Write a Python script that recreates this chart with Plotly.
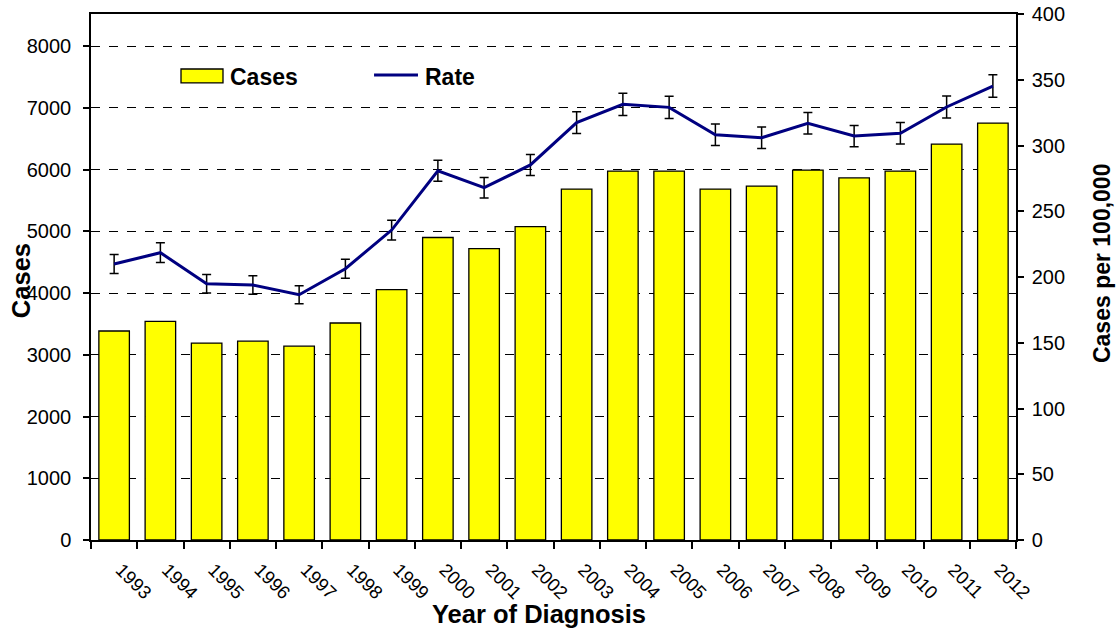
import plotly.graph_objects as go

years = [str(y) for y in range(1993, 2013)]
cases = [3385, 3540, 3190, 3220, 3140, 3515, 4055, 4900, 4720, 5075,
         5684, 5976, 5976, 5684, 5733, 5992, 5865, 5976, 6413, 6753]
rate = [209.9, 218.5, 194.9, 193.9, 186.5, 206.3, 235.7, 280.8, 267.9, 285.2,
        317.4, 331.3, 329.0, 308.2, 305.9, 316.9, 307.2, 309.3, 329.3, 345.2]
rate_err = [7.3, 7.5, 7.0, 7.0, 6.8, 7.2, 7.5, 8.0, 7.8, 8.0,
            8.3, 8.5, 8.5, 8.2, 8.1, 8.2, 8.1, 8.1, 8.3, 8.6]

FONT = "Liberation Sans, Arial, sans-serif"
NAVY = "#000080"
YELLOW = "#FFFF00"

fig = go.Figure()
fig.add_trace(go.Bar(
    x=years, y=cases, name="Cases", yaxis="y",
    marker=dict(color=YELLOW, line=dict(color="black", width=1.3)),
    width=0.66, showlegend=False,
))
fig.add_trace(go.Scatter(
    x=years, y=rate, name="Rate", yaxis="y2", mode="lines",
    line=dict(color=NAVY, width=3),
    error_y=dict(type="data", array=rate_err, color="black", thickness=1.5, width=4.5),
    showlegend=False,
))

fig.update_layout(
    width=1119, height=628,
    margin=dict(l=91, r=103, t=14, b=88),
    paper_bgcolor="white", plot_bgcolor="white",
    font=dict(family=FONT, size=20, color="black"),
    bargap=0.34,
    xaxis=dict(
        type="category", range=[-0.5, len(years) - 0.5],
        tickson="boundaries", ticks="outside", ticklen=7,
        tickwidth=1.5, tickcolor="black", tickangle=45, automargin=False,
        tickfont=dict(size=18.5), ticklabelshift=7, ticklabelstandoff=10,
        showline=True, linecolor="black", linewidth=1.5, mirror=True,
        showgrid=False, ticklabeloverflow="allow",
    ),
    yaxis=dict(
        range=[0, 8520], dtick=1000, tick0=0, ticks="outside", ticklen=6,
        tickwidth=1.5, tickcolor="black", automargin=False,
        showline=True, linecolor="black", linewidth=1.5,
        showgrid=True, gridcolor="black", gridwidth=1, griddash="dash",
        zeroline=False, ticklabelstandoff=8, ticklabeloverflow="allow",
    ),
    yaxis2=dict(
        range=[0, 400], dtick=50, tick0=0, overlaying="y", side="right",
        ticks="outside", ticklen=6, tickwidth=1.5, tickcolor="black",
        automargin=False,
        showline=True, linecolor="black", linewidth=1.5,
        showgrid=False, zeroline=False, ticklabelstandoff=4,
        ticklabeloverflow="allow",
    ),
)

# Axis titles
fig.add_annotation(xref="paper", yref="paper", x=0.4843, y=-0.1407,
                   text="<b>Year of Diagnosis</b>", showarrow=False,
                   xanchor="center", yanchor="middle", font=dict(size=25.5))
fig.add_annotation(xref="paper", yref="paper", x=-0.0757, y=0.494,
                   text="<b>Cases</b>", showarrow=False, textangle=-90,
                   xanchor="center", yanchor="middle", font=dict(size=25.5))
fig.add_annotation(xref="paper", yref="paper", x=1.093, y=0.5266,
                   text="<b>Cases per 100,000</b>", showarrow=False, textangle=-90,
                   xanchor="center", yanchor="middle", font=dict(size=23))

# Legend drawn inside the plot area
fig.add_shape(type="rect", xref="x domain", yref="y domain",
              x0=0.0973, x1=0.1427, y0=0.869, y1=0.8954,
              fillcolor=YELLOW, line=dict(color="black", width=1.3))
fig.add_annotation(xref="x domain", yref="y domain", x=0.148, y=0.880,
                   text="<b>Cases</b>", showarrow=False, xanchor="left", yanchor="middle",
                   font=dict(size=23))
fig.add_shape(type="line", xref="x domain", yref="y domain",
              x0=0.306, x1=0.3535, y0=0.884, y1=0.884,
              line=dict(color=NAVY, width=3))
fig.add_annotation(xref="x domain", yref="y domain", x=0.359, y=0.880,
                   text="<b>Rate</b>", showarrow=False, xanchor="left", yanchor="middle",
                   font=dict(size=23))

fig.write_html("out.html", config={"displayModeBar": False},
               post_script="document.body.style.margin='0';")
